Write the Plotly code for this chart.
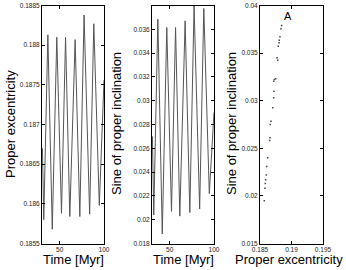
import plotly.graph_objects as go

# ---- data ----
# time series: alternating extremes (Myr)
time_myr = [30.5, 32.0, 36.6, 41.6, 46.7, 52.0, 56.6, 61.4, 67.4, 72.7, 77.5, 83.8, 88.5, 94.7, 100.0]
ecc = [0.1867, 0.18580, 0.18813, 0.18568, 0.18810, 0.18588, 0.18810, 0.18584, 0.18807,
       0.18584, 0.18838, 0.18587, 0.18827, 0.18598, 0.18756]
sini = [0.0270, 0.0204, 0.03685, 0.0188, 0.03615, 0.0207, 0.03615, 0.0203, 0.03671,
        0.0206, 0.03797, 0.0209, 0.03775, 0.0222, 0.0290]

# scatter: proper elements
pe = [0.18844, 0.18833, 0.18817, 0.18806, 0.18802, 0.18790, 0.18770, 0.18781, 0.18749,
      0.18727, 0.18717, 0.18722, 0.18717, 0.18702, 0.18675, 0.18663, 0.18659, 0.18654,
      0.18622, 0.18606, 0.18600, 0.18590, 0.18584, 0.18579, 0.18568]
pi = [0.0379, 0.03755, 0.03671, 0.03636, 0.03608, 0.03572, 0.03451, 0.03425, 0.0323,
      0.03223, 0.03205, 0.0310, 0.0303, 0.02925, 0.02785, 0.0275, 0.0261, 0.02582,
      0.0240, 0.0231, 0.0222, 0.0217, 0.0213, 0.0208, 0.0195]

ecc_ticks = [0.1855, 0.186, 0.1865, 0.187, 0.1875, 0.188, 0.1885]
ecc_ticktext = ["0.1855", "0.186", "0.1865", "0.187", "0.1875", "0.188", "0.1885"]
inc_ticks = [0.018, 0.020, 0.022, 0.024, 0.026, 0.028, 0.030, 0.032, 0.034, 0.036]
inc_ticktext = ["0.018", "0.02", "0.022", "0.024", "0.026", "0.028", "0.03", "0.032", "0.034", "0.036"]
t_ticks = [50, 100]
sc_yticks = [0.015, 0.02, 0.025, 0.03, 0.035, 0.04]
sc_yticktext = ["0.015", "0.02", "0.025", "0.03", "0.035", "0.04"]
sc_xticks = [0.185, 0.19, 0.195]
sc_xticktext = ["0.185", "0.19", "0.195"]

W, H = 346, 270
FONT = "Liberation Sans, Arial, sans-serif"

fig = go.Figure()
fig.add_trace(go.Scatter(x=time_myr, y=ecc, mode="lines",
                         line=dict(color="#555555", width=1), xaxis="x", yaxis="y"))
fig.add_trace(go.Scatter(x=time_myr, y=sini, mode="lines",
                         line=dict(color="#555555", width=1), xaxis="x2", yaxis="y2"))
fig.add_trace(go.Scatter(x=pe, y=pi, mode="markers",
                         marker=dict(color="#444444", size=1.5, symbol="square"),
                         xaxis="x3", yaxis="y3"))

def ax(domain, rng, tickvals, ticktext, anchor):
    return dict(domain=domain, range=rng, tickvals=tickvals, ticktext=ticktext,
                anchor=anchor, showline=True, linecolor="black", linewidth=1,
                mirror="allticks", ticks="inside", ticklen=3, tickcolor="black",
                showgrid=False, zeroline=False, automargin=False,
                tickfont=dict(family=FONT, size=6.5, color="#222"))

ydom = [1 - 243.5 / H, 1 - 5.5 / H]
fig.update_layout(
    width=W, height=H, margin=dict(l=0, r=0, t=0, b=0),
    paper_bgcolor="white", plot_bgcolor="white", showlegend=False,
    xaxis=ax([42 / W, 104 / W], [30, 100], t_ticks, ["50", "100"], "y"),
    yaxis=ax(ydom, [0.1855, 0.1885], ecc_ticks, ecc_ticktext, "x"),
    xaxis2=ax([152 / W, 214 / W], [30, 100], t_ticks, ["50", "100"], "y2"),
    yaxis2=ax(ydom, [0.018, 0.038], inc_ticks, inc_ticktext, "x2"),
    xaxis3=ax([260 / W, 323 / W], [0.185, 0.195], sc_xticks, sc_xticktext, "y3"),
    yaxis3=ax(ydom, [0.015, 0.04], sc_yticks, sc_yticktext, "x3"),
)

def title(text, x, y, angle=0):
    fig.add_annotation(text=text, x=x / W, y=1 - y / H, xref="paper", yref="paper",
                       showarrow=False, textangle=angle, xanchor="center", yanchor="middle",
                       font=dict(family=FONT, size=13, color="black"))

title("Proper excentricity", 10, 124, -90)
title("Sine of proper inclination", 116, 124, -90)
title("Sine of proper inclination", 231, 124, -90)
title("Time [Myr]", 73, 259)
title("Time [Myr]", 183, 259)
title("Proper excentricity", 289, 259)

fig.add_annotation(text="A", x=0.18949, y=0.03895, xref="x3", yref="y3", showarrow=False,
                   font=dict(family=FONT, size=11, color="black"))

fig.write_html("out.html", config={"displayModeBar": False},
               post_script="document.body.style.margin='0';document.body.style.overflow='hidden';")
